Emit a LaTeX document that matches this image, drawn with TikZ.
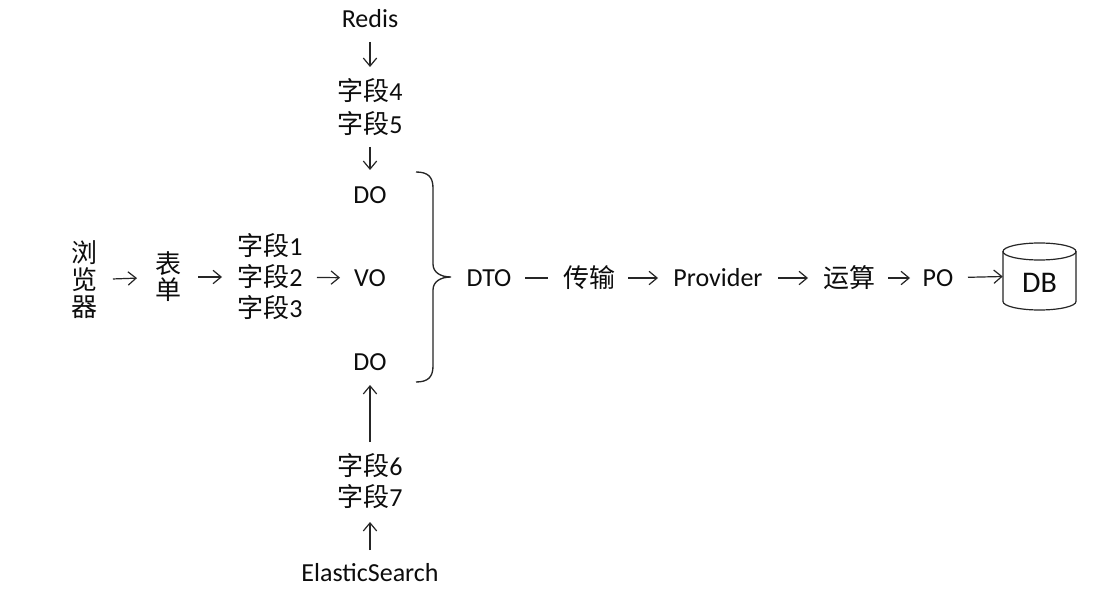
\documentclass[tikz,border=0pt]{standalone}
\usepackage{fontspec}
\setmainfont{Carlito}
\newfontfamily\cjk{Noto Sans CJK SC}
\usetikzlibrary{arrows.meta,calc}
\newcommand\zdlabel{{\cjk 字段}}
\begin{document}
\begin{tikzpicture}[x=0.75pt,y=-0.75pt,
  txt/.style={font=\fontsize{19.5pt}{23.25pt}\selectfont, text=black!95, inner sep=0pt, align=center},
  cjkcol/.style={font=\fontsize{19.5pt}{#1}\selectfont\cjk, text=black!95, inner sep=0pt, align=center},
  arr/.style={draw=black!85, line width=0.9pt, -{Straight Barb[length=6pt,width=10pt,line width=0.9pt]}},
  ln/.style={draw=black!85, line width=0.9pt},
  sh/.style 2 args={shorten <=#1, shorten >=#2},
  cyl/.style={draw=black!85, line width=0.9pt}
]
\useasboundingbox[fill=white] (0,0) rectangle (1097,599);

% main row
\node[cjkcol=20.25pt] (browser) at (84,280) {浏\\览\\器};
\node[cjkcol=19.5pt] (form) at (168,277) {表\\单};
\node[txt, font=\fontsize{19.5pt}{23.25pt}\selectfont] (f123) at (270,277) {\zdlabel1\\\zdlabel2\\\zdlabel3};
\node[txt] (vo) at (370,278) {VO};
\node[txt] (dotop) at (370,195) {DO};
\node[txt] (dobot) at (370,362) {DO};
\node[txt] (redis) at (370,19) {Redis};
\node[txt, font=\fontsize{19.5pt}{24.75pt}\selectfont] (f45) at (370,107.5) {\zdlabel4\\\zdlabel5};
\node[txt] (f67) at (370,481.5) {\zdlabel6\\\zdlabel7};
\node[txt] (es) at (370,573) {ElasticSearch};
\node[txt] (dto) at (489,278) {DTO};
\node[cjkcol=23pt] (chuan) at (589,278) {传输};
\node[txt] (prov) at (718,278) {Provider};
\node[cjkcol=23pt] (yun) at (849,278) {运算};
\node[txt] (po) at (938,278) {PO};

% database
\node[minimum width=54.75pt, minimum height=50.25pt, inner sep=0pt] (db) at (1039.5,276.5) {};
\draw[cyl] (1039.5,251.5) ellipse [x radius=36.5, y radius=8.5];
\draw[cyl] (1003,251.5) -- (1003,301.5) arc [start angle=180, end angle=360, x radius=36.5, y radius=-8.5] -- (1076,251.5);
\node[txt, font=\fontsize{22.5pt}{26pt}\selectfont] (dblabel) at (1039.5,283) {DB};

% brace
\draw[ln, line width=1pt] (416,172) .. controls (428,172) and (433,177) .. (433,188)
  -- (433,264) .. controls (433,272) and (440,277) .. (451,277)
  .. controls (440,277) and (433,282) .. (433,290)
  -- (433,366) .. controls (433,377) and (428,382) .. (416,382);

% connectors
\draw[arr, sh={21.75pt}{23.25pt}] (browser.center) -- (form.center);
\draw[arr, sh={22.5pt}{36pt}] (form.center) -- (f123.center);
\draw[arr, sh={35.25pt}{22.5pt}] (f123.center) -- (vo.center);
\draw[ln, sh={27pt}{30.75pt}] (dto.center) -- (chuan.center);
\draw[arr, sh={29.25pt}{45pt}] (chuan.center) -- (prov.center);
\draw[arr, sh={45pt}{30.75pt}] (prov.center) -- (yun.center);
\draw[arr, sh={29.25pt}{21pt}] (yun.center) -- (po.center);
\draw[arr, sh={22.5pt}{0pt}] (po.center) -- (db.west);
\draw[arr, sh={17.25pt}{30.375pt}] (redis.center) -- (f45.center);
\draw[arr, sh={29.625pt}{18.75pt}] (f45.center) -- (dotop.center);
\draw[arr, sh={29.625pt}{17.25pt}] (f67.center) -- (dobot.center);
\draw[arr, sh={17.25pt}{30.375pt}] (es.center) -- (f67.center);
\end{tikzpicture}
\end{document}
